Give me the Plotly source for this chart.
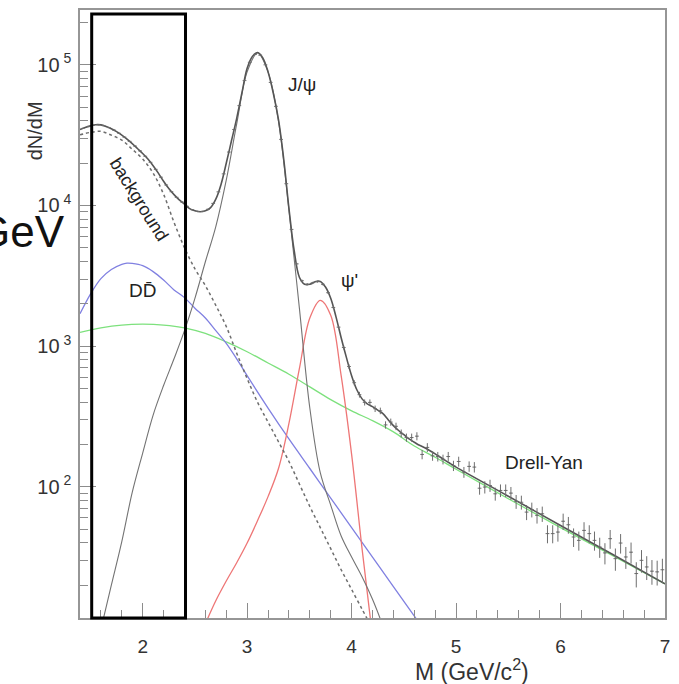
import numpy as np
import plotly.graph_objects as go

# ---------------------------------------------------------------
# Dimuon invariant-mass spectrum with fitted components
# (values stored as log10(dN/dM) sampled along the mass axis)
# ---------------------------------------------------------------

# total fit
total_mass = [1.40, 1.45, 1.50, 1.55, 1.60, 1.65, 1.70, 1.75, 1.80, 1.85,
              1.90, 1.95, 2.00, 2.05, 2.10, 2.15, 2.20, 2.25, 2.30, 2.35,
              2.40, 2.45, 2.50, 2.55, 2.60, 2.65, 2.70, 2.75, 2.80, 2.85,
              2.90, 2.95, 3.00, 3.05, 3.10, 3.15, 3.20, 3.25, 3.30, 3.35,
              3.40, 3.45, 3.50, 3.55, 3.60, 3.65, 3.70, 3.75, 3.80, 3.85,
              3.90, 3.95, 4.00, 4.05, 4.10, 4.15, 4.20, 4.25, 4.30, 4.35,
              4.40, 4.45, 4.50, 4.55, 4.60, 4.65, 4.70, 4.75, 4.80, 4.85,
              4.90, 4.95, 5.00, 5.50, 6.00, 6.50, 7.00]
total_log10 = [4.540, 4.555, 4.566, 4.574, 4.573, 4.562, 4.546, 4.525, 4.500, 4.472,
               4.440, 4.405, 4.370, 4.330, 4.283, 4.230, 4.172, 4.120, 4.077, 4.040,
               4.010, 3.978, 3.962, 3.955, 3.962, 3.985, 4.045, 4.150, 4.300, 4.460,
               4.620, 4.800, 4.975, 5.060, 5.088, 5.050, 4.950, 4.800, 4.610, 4.330,
               3.980, 3.680, 3.490, 3.440, 3.440, 3.458, 3.460, 3.420, 3.340, 3.210,
               3.060, 2.920, 2.790, 2.690, 2.625, 2.590, 2.570, 2.545, 2.520, 2.477,
               2.435, 2.400, 2.370, 2.340, 2.317, 2.295, 2.277, 2.256, 2.234, 2.210,
               2.186, 2.163, 2.140, 1.933, 1.725, 1.518, 1.310]

# combinatorial background (dotted)
bkg_mass = [1.40, 1.50, 1.60, 1.70, 1.80, 1.90, 2.00, 2.10, 2.20, 2.30,
            2.40, 2.50, 2.60, 2.70, 2.80, 2.90, 3.00, 3.10, 3.20, 3.30,
            3.40, 3.50, 3.60, 3.70, 3.80, 3.90, 4.00, 4.10, 4.15]
bkg_log10 = [4.503, 4.520, 4.527, 4.500, 4.465, 4.400, 4.330, 4.230, 4.080, 3.880,
             3.700, 3.550, 3.430, 3.290, 3.140, 2.950, 2.770, 2.600, 2.460, 2.320,
             2.180, 2.020, 1.860, 1.710, 1.560, 1.410, 1.270, 1.130, 1.060]

# open charm, D Dbar (blue)
dd_mass = [1.40, 1.50, 1.60, 1.70, 1.80, 1.85, 1.90, 2.00, 2.10, 2.20,
           2.30, 2.40, 2.50, 2.60, 2.70, 2.80, 2.90, 3.00, 3.20, 3.40,
           3.60, 3.80, 4.00, 4.20, 4.40, 4.62]
dd_log10 = [3.230, 3.370, 3.480, 3.545, 3.582, 3.590, 3.588, 3.572, 3.530, 3.470,
            3.400, 3.345, 3.270, 3.200, 3.110, 3.020, 2.910, 2.790, 2.560, 2.340,
            2.130, 1.920, 1.710, 1.500, 1.290, 1.060]

# Drell-Yan (green)
dy_mass = [1.40, 1.60, 1.80, 2.00, 2.20, 2.40, 2.60, 2.80, 3.00, 3.20,
           3.40, 3.60, 3.80, 4.00, 4.20, 4.40, 4.60, 4.80, 5.00, 5.50,
           6.00, 6.50, 7.00]
dy_log10 = [3.098, 3.130, 3.150, 3.156, 3.150, 3.130, 3.090, 3.030, 2.960, 2.880,
            2.800, 2.710, 2.620, 2.540, 2.470, 2.390, 2.290, 2.210, 2.125, 1.915,
            1.710, 1.510, 1.310]

# J/psi line shape (thin grey)
jpsi_mass = [1.62, 1.70, 1.80, 1.90, 2.00, 2.10, 2.20, 2.30, 2.40, 2.50,
             2.60, 2.70, 2.80, 2.90, 3.00, 3.10, 3.20, 3.30, 3.40, 3.50,
             3.60, 3.70, 3.80, 3.90, 4.00, 4.10, 4.20, 4.28]
jpsi_log10 = [1.050, 1.300, 1.610, 1.960, 2.240, 2.510, 2.720, 2.910, 3.110, 3.340,
              3.600, 3.850, 4.180, 4.580, 4.950, 5.085, 4.950, 4.600, 3.970, 3.270,
              2.560, 2.100, 1.870, 1.650, 1.500, 1.360, 1.200, 1.050]

# psi' line shape (red)
psi2_mass = [2.62, 2.70, 2.80, 2.90, 3.00, 3.10, 3.20, 3.30, 3.40, 3.50,
             3.60, 3.70, 3.80, 3.90, 4.00, 4.10, 4.18]
psi2_log10 = [1.060, 1.190, 1.330, 1.460, 1.600, 1.760, 1.930, 2.130, 2.450, 2.840,
              3.200, 3.326, 3.220, 2.790, 2.230, 1.560, 1.060]

# measured spectrum, 50 MeV bins
bin_mass = [1.425, 1.475, 1.525, 1.575, 1.625, 1.675, 1.725, 1.775, 1.825, 1.875,
            1.925, 1.975, 2.025, 2.075, 2.125, 2.175, 2.225, 2.275, 2.325, 2.375,
            2.425, 2.475, 2.525, 2.575, 2.625, 2.675, 2.725, 2.775, 2.825, 2.875,
            2.925, 2.975, 3.025, 3.075, 3.125, 3.175, 3.225, 3.275, 3.325, 3.375,
            3.425, 3.475, 3.525, 3.575, 3.625, 3.675, 3.725, 3.775, 3.825, 3.875,
            3.925, 3.975, 4.025, 4.075, 4.125, 4.175, 4.225, 4.275, 4.325, 4.375,
            4.425, 4.475, 4.525, 4.575, 4.625, 4.675, 4.725, 4.775, 4.825, 4.875,
            4.925, 4.975, 5.025, 5.075, 5.125, 5.175, 5.225, 5.275, 5.325, 5.375,
            5.425, 5.475, 5.525, 5.575, 5.625, 5.675, 5.725, 5.775, 5.825, 5.875,
            5.925, 5.975, 6.025, 6.075, 6.125, 6.175, 6.225, 6.275, 6.325, 6.375,
            6.425, 6.475, 6.525, 6.575, 6.625, 6.675, 6.725, 6.775, 6.825, 6.875,
            6.925, 6.975]
bin_log10 = [4.548, 4.561, 4.570, 4.574, 4.568, 4.554, 4.536, 4.513, 4.486, 4.456,
             4.423, 4.388, 4.350, 4.307, 4.257, 4.201, 4.146, 4.098, 4.058, 4.025,
             3.994, 3.970, 3.958, 3.958, 3.973, 4.015, 4.097, 4.225, 4.380, 4.540,
             4.710, 4.888, 5.018, 5.074, 5.069, 5.000, 4.875, 4.705, 4.470, 4.155,
             3.830, 3.585, 3.465, 3.440, 3.449, 3.459, 3.440, 3.380, 3.275, 3.135,
             2.990, 2.855, 2.740, 2.655, 2.600, 2.600, 2.555, 2.540, 2.440, 2.460,
             2.430, 2.380, 2.350, 2.350, 2.360, 2.230, 2.280, 2.220, 2.215, 2.195,
             2.215, 2.150, 2.180, 2.104, 2.145, 2.140, 1.990, 1.998, 2.009, 1.950,
             1.974, 1.974, 1.955, 1.895, 1.890, 1.820, 1.838, 1.797, 1.808, 1.667,
             1.667, 1.678, 1.755, 1.730, 1.643, 1.619, 1.690, 1.667, 1.619, 1.572,
             1.530, 1.631, 1.489, 1.600, 1.501, 1.535, 1.383, 1.477, 1.430, 1.400,
             1.395, 1.410]

# tick labels
x_major = [2, 3, 4, 5, 6, 7]
x_minor = [1.6, 1.8, 2.2, 2.4, 2.6, 2.8, 3.2, 3.4, 3.6, 3.8, 4.2, 4.4, 4.6, 4.8,
           5.2, 5.4, 5.6, 5.8, 6.2, 6.4, 6.6, 6.8]
y_major = [1e2, 1e3, 1e4, 1e5]
y_major_text = ["10<sup> 2</sup>", "10<sup> 3</sup>", "10<sup> 4</sup>", "10<sup> 5</sup>"]
y_minor = [m * 10 ** e for e in (1, 2, 3, 4) for m in range(2, 10)] + [2e5]

# highlighted mass window
window_lo, window_hi = 1.512, 2.41

FONT = "Liberation Sans, Arial, sans-serif"


def lin(v):
    return 10 ** np.asarray(v)


fig = go.Figure()

fig.add_trace(go.Scatter(x=dy_mass, y=lin(dy_log10), mode="lines",
                         line=dict(color="rgb(125,225,125)", width=1.3, shape="spline")))
fig.add_trace(go.Scatter(x=dd_mass, y=lin(dd_log10), mode="lines",
                         line=dict(color="rgb(128,128,225)", width=1.3, shape="spline")))
fig.add_trace(go.Scatter(x=psi2_mass, y=lin(psi2_log10), mode="lines",
                         line=dict(color="rgb(238,118,118)", width=1.3, shape="spline")))
fig.add_trace(go.Scatter(x=bkg_mass, y=lin(bkg_log10), mode="lines",
                         line=dict(color="rgb(110,110,110)", width=1.5, dash="dot", shape="spline")))
fig.add_trace(go.Scatter(x=jpsi_mass, y=lin(jpsi_log10), mode="lines",
                         line=dict(color="rgb(115,115,115)", width=1.1, shape="spline")))
fig.add_trace(go.Scatter(x=total_mass, y=lin(total_log10), mode="lines",
                         line=dict(color="rgb(85,85,85)", width=1.6, shape="spline")))

counts = lin(bin_log10)
fig.add_trace(go.Scatter(
    x=bin_mass, y=counts, mode="markers",
    marker=dict(size=1, color="rgb(100,100,100)"),
    error_y=dict(type="data", array=np.sqrt(counts), color="rgb(110,110,110)",
                 thickness=1, width=0),
    error_x=dict(type="constant", value=0.018, color="rgb(110,110,110)",
                 thickness=1, width=0),
))

axis_line = "rgb(150,150,150)"
tick_col = "rgb(140,140,140)"

fig.update_xaxes(
    range=[1.4, 7.0], tickvals=x_major, ticks="inside", ticklen=15, tickwidth=1,
    tickcolor=tick_col, showline=True, linecolor=axis_line, linewidth=1.5, mirror=True,
    showgrid=False, zeroline=False, tickfont=dict(size=19, color="#333", family=FONT),
    ticklabelstandoff=10,
    minor=dict(tickvals=x_minor, ticks="inside", ticklen=8, tickcolor=tick_col,
               tickwidth=1, showgrid=False),
)
fig.update_yaxes(
    type="log", range=[1.067, 5.39], tickvals=y_major, ticktext=y_major_text,
    ticks="inside", ticklen=16, tickwidth=1, tickcolor=tick_col,
    showline=True, linecolor=axis_line, linewidth=1.5, mirror=True,
    showgrid=False, zeroline=False, tickfont=dict(size=20, color="#333", family=FONT),
    ticklabelstandoff=3,
    minor=dict(tickvals=y_minor, ticks="inside", ticklen=8, tickcolor=tick_col,
               tickwidth=1, showgrid=False),
)

fig.add_shape(type="rect", xref="x", yref="paper", x0=window_lo, x1=window_hi,
              y0=0, y1=0.9934, line=dict(color="black", width=3), fillcolor="rgba(0,0,0,0)")

label_font = dict(family=FONT, size=19, color="#222")
annotations = [
    dict(x=3.524, y=4.86, text="J/ψ", xref="x", yref="y", showarrow=False, font=label_font),
    dict(x=3.977, y=3.47, text="ψ'", xref="x", yref="y", showarrow=False, font=label_font),
    dict(x=1.999, y=3.396, text="DD\u0304", xref="x", yref="y", showarrow=False, font=label_font),
    dict(x=5.844, y=2.176, text="Drell-Yan", xref="x", yref="y", showarrow=False, font=label_font),
    dict(x=1.96, y=4.045, text="background", xref="x", yref="y", showarrow=False,
         textangle=58, font=dict(family=FONT, size=18, color="#222")),
    dict(x=-0.0769, y=0.8005, text="dN/dM", xref="paper", yref="paper", showarrow=False,
         xanchor="center", yanchor="middle", textangle=-90,
         font=dict(family=FONT, size=20, color="#333")),
    dict(x=0.6696, y=-0.0848, text="M (GeV/c<sup>2</sup>)", xref="paper", yref="paper",
         xanchor="center", yanchor="middle", showarrow=False,
         font=dict(family=FONT, size=23, color="#333")),
    dict(x=-0.022, y=0.635, text="GeV", xref="paper", yref="paper", showarrow=False,
         xanchor="right", yanchor="middle", font=dict(family=FONT, size=44, color="#111")),
]
fig.update_layout(
    width=679, height=684, margin=dict(l=80, r=14, t=8, b=66),
    paper_bgcolor="white", plot_bgcolor="white", showlegend=False,
    font=dict(family=FONT), annotations=annotations,
)

fig.write_html("out.html")
